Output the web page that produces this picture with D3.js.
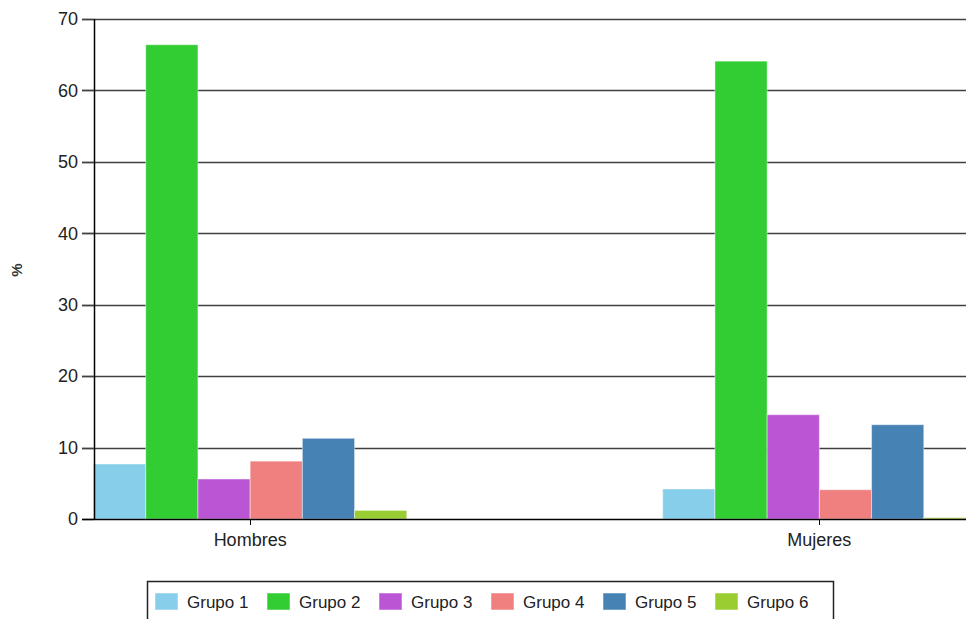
<!DOCTYPE html>
<html>
<head>
<meta charset="utf-8">
<script src="https://cdn.jsdelivr.net/npm/d3@7"></script>
<style>
  html, body { margin: 0; padding: 0; background: #fff; }
  svg { display: block; }
  text { font-family: "Liberation Sans", Arial, sans-serif; }
</style>
</head>
<body>
<svg id="chart" width="966" height="619"></svg>
<script>
const categories = ["Hombres", "Mujeres"];
const groups = ["Grupo 1", "Grupo 2", "Grupo 3", "Grupo 4", "Grupo 5", "Grupo 6"];
const hombres = [7.7, 66.4, 5.6, 8.1, 11.3, 1.2];
const mujeres = [4.2, 64.1, 14.6, 4.1, 13.2, 0.2];
const colors = ["#87CEEB", "#32CD32", "#BA55D3", "#F08080", "#4682B4", "#9ACD32"];
const yTicks = [0, 10, 20, 30, 40, 50, 60, 70];
const yLabel = "%";

const seriesByCat = { "Hombres": hombres, "Mujeres": mujeres };

const svg = d3.select("#chart");
const W = 966, H = 619;

const x0 = d3.scaleBand().domain(categories).range([93.5, 976]).paddingInner(0.4496).paddingOuter(0);
const x1 = d3.scaleBand().domain(groups).range([0, x0.bandwidth()]).padding(0);
const y = d3.scaleLinear().domain([0, 70]).range([519, 19]);
const color = d3.scaleOrdinal().domain(groups).range(colors);

// gridlines
svg.append("g").selectAll("line").data(yTicks.filter(t => t > 0)).join("line")
  .attr("x1", 82).attr("x2", W)
  .attr("y1", d => Math.round(y(d)) + 0.5).attr("y2", d => Math.round(y(d)) + 0.5)
  .attr("stroke", "#404040").attr("stroke-width", 1.4);

// bars
const gCat = svg.append("g").selectAll("g").data(categories).join("g")
  .attr("transform", d => `translate(${x0(d)},0)`);
gCat.selectAll("rect").data(c => groups.map((g, i) => ({ g, v: seriesByCat[c][i] }))).join("rect")
  .attr("x", d => x1(d.g))
  .attr("width", x1.bandwidth())
  .attr("y", d => y(d.v))
  .attr("height", d => y(0) - y(d.v))
  .attr("fill", d => color(d.g))
  .attr("stroke", "#ffffff").attr("stroke-opacity", 0.45).attr("stroke-width", 1);

// y axis
const yAxis = svg.append("g");
yAxis.append("line").attr("x1", 94.5).attr("x2", 94.5).attr("y1", y(70)).attr("y2", y(0))
  .attr("stroke", "#000").attr("stroke-width", 1.5);
yAxis.selectAll("line.tick").data(yTicks).join("line").attr("class", "tick")
  .attr("x1", 82).attr("x2", 94)
  .attr("y1", d => Math.round(y(d)) + 0.5).attr("y2", d => Math.round(y(d)) + 0.5)
  .attr("stroke", "#404040").attr("stroke-width", 1.4);
yAxis.selectAll("text").data(yTicks).join("text")
  .attr("x", 78).attr("y", d => y(d)).attr("dy", "0.35em")
  .attr("text-anchor", "end").attr("font-size", 18).attr("fill", "#222")
  .text(d => d);

// x axis
const xAxis = svg.append("g");
xAxis.append("line").attr("x1", 82).attr("x2", W).attr("y1", Math.round(y(0)) + 0.5).attr("y2", Math.round(y(0)) + 0.5)
  .attr("stroke", "#000").attr("stroke-width", 1.5);
xAxis.selectAll("line.tick").data(categories).join("line").attr("class", "tick")
  .attr("x1", d => Math.round(x0(d) + x0.bandwidth() / 2) + 0.5).attr("x2", d => Math.round(x0(d) + x0.bandwidth() / 2) + 0.5)
  .attr("y1", y(0)).attr("y2", y(0) + 6)
  .attr("stroke", "#000").attr("stroke-width", 1);
xAxis.selectAll("text").data(categories).join("text")
  .attr("x", d => x0(d) + x0.bandwidth() / 2).attr("y", 546)
  .attr("text-anchor", "middle").attr("font-size", 18).attr("fill", "#222")
  .text(d => d);

// y label
svg.append("text")
  .attr("transform", "translate(22,270) rotate(-90)")
  .attr("text-anchor", "middle").attr("font-size", 15).attr("font-weight", "bold").attr("fill", "#333")
  .text(yLabel);

// legend
const legend = svg.append("g");
legend.append("rect").attr("x", 147.5).attr("y", 581.5).attr("width", 686).attr("height", 60)
  .attr("fill", "#fff").attr("stroke", "#222").attr("stroke-width", 1.5);
const lx = d3.scalePoint().domain(groups).range([155, 715]);
const li = legend.selectAll("g.item").data(groups).join("g").attr("class", "item")
  .attr("transform", d => `translate(${lx(d)},593)`);
li.append("rect").attr("width", 23).attr("height", 17).attr("fill", d => color(d))
  .attr("stroke", "#ffffff").attr("stroke-opacity", 0.5);
li.append("text").attr("x", 32).attr("y", 15).attr("font-size", 17).attr("fill", "#222").text(d => d);
</script>
</body>
</html>
